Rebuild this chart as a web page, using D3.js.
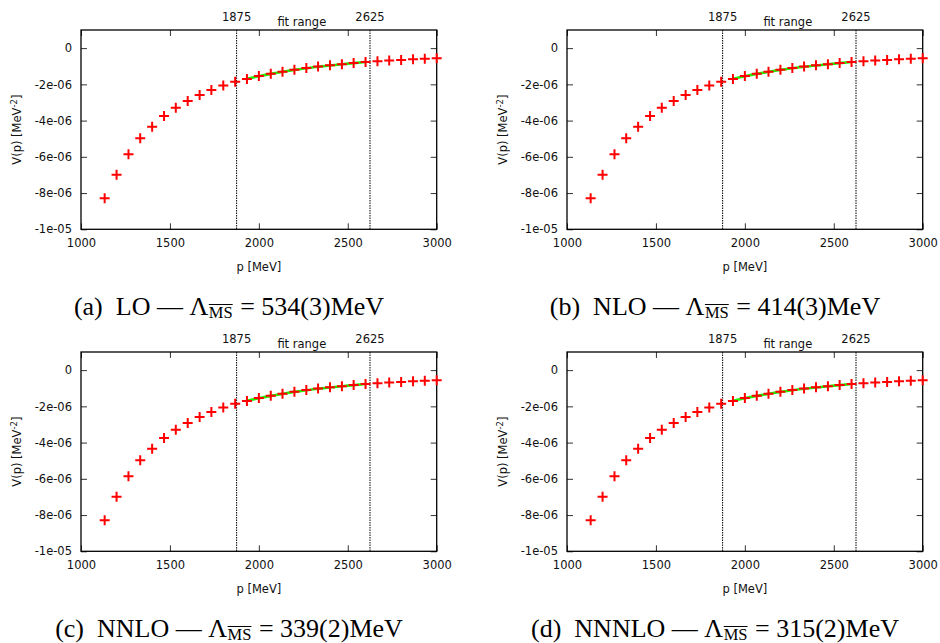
<!DOCTYPE html>
<html>
<head>
<meta charset="utf-8">
<script src="https://cdn.jsdelivr.net/npm/d3@7"></script>
<style>
  body { margin: 0; background: #fff; }
  svg { display: block; }
</style>
</head>
<body>
<svg id="chart" width="940" height="643"></svg>
<script>
// lattice momenta and the measured potential (same for all four panels)
const pValues = [1133, 1200, 1267, 1333, 1400, 1467, 1533, 1600, 1667, 1733,
    1800, 1867, 1933, 2000, 2067, 2133, 2200, 2267, 2333, 2400,
    2467, 2533, 2600, 2667, 2733, 2800, 2867, 2933, 3000];
const vValues = [-8.29e-6, -6.99e-6, -5.86e-6, -4.98e-6, -4.34e-6, -3.75e-6, -3.29e-6, -2.92e-6, -2.59e-6, -2.31e-6,
    -2.07e-6, -1.86e-6, -1.71e-6, -1.54e-6, -1.41e-6, -1.30e-6, -1.19e-6, -1.10e-6, -1.01e-6, -0.95e-6,
    -0.89e-6, -0.82e-6, -0.76e-6, -0.73e-6, -0.69e-6, -0.65e-6, -0.62e-6, -0.59e-6, -0.56e-6];

// fitted curve inside the fit range
const fitP = [1933, 2000, 2067, 2133, 2200, 2267, 2333, 2400, 2467, 2533, 2600];
const fitV = [-1.69e-6, -1.55e-6, -1.42e-6, -1.31e-6, -1.20e-6, -1.11e-6, -1.03e-6, -0.96e-6, -0.89e-6, -0.83e-6, -0.77e-6];

const fitRange = [1875, 2625];
const panelTags = ["(a)", "(b)", "(c)", "(d)"];
const orders = ["LO", "NLO", "NNLO", "NNNLO"];
const lambdas = ["534(3)", "414(3)", "339(2)", "315(2)"];

const xTicks = [1000, 1500, 2000, 2500, 3000];
const yTicks = [0, -2e-6, -4e-6, -6e-6, -8e-6, -1e-5];
const yTickLabels = ["0", "-2e-06", "-4e-06", "-6e-06", "-8e-06", "-1e-05"];

const panelOrigins = [[0, 0], [486, 0], [0, 322], [486, 322]];

const margin = {left: 81, top: 30},
    width = 355.7,
    height = 199.3,
    sansFont = "'DejaVu Sans', Verdana, sans-serif",
    serifFont = "'Liberation Serif', 'DejaVu Serif', serif";

const svg = d3.select("#chart");

const x = d3.scaleLinear().domain([1000, 3000]).range([0, width]);
const y = d3.scaleLinear().domain([-1e-5, 1e-6]).range([height, 0]);

const fitLine = d3.line()
    .x((d, i) => x(fitP[i]))
    .y(d => y(d))
    .curve(d3.curveNatural);

panelOrigins.forEach((origin, k) => {
    const panel = svg.append("g")
        .attr("transform", `translate(${origin[0]},${origin[1]})`);
    const plot = panel.append("g")
        .attr("transform", `translate(${margin.left},${margin.top})`);

    // axes with inward ticks
    plot.append("g")
        .call(d3.axisLeft(y).tickValues(yTicks).tickSize(-6).tickSizeOuter(0).tickPadding(9)
            .tickFormat((d, i) => yTickLabels[i]));
    plot.append("g")
        .attr("transform", `translate(${width},0)`)
        .call(d3.axisRight(y).tickValues(yTicks).tickSize(-6).tickSizeOuter(0).tickFormat(""));
    plot.append("g")
        .attr("transform", `translate(0,${height})`)
        .call(d3.axisBottom(x).tickValues(xTicks).tickSize(-6).tickSizeOuter(0).tickPadding(10)
            .tickFormat(d3.format("d")));
    plot.append("g")
        .call(d3.axisTop(x).tickValues(xTicks).tickSize(-6).tickSizeOuter(0).tickFormat(""));

    plot.selectAll(".domain").remove();
    plot.selectAll(".tick line").attr("stroke", "#333").attr("stroke-width", 1);
    plot.selectAll(".tick text")
        .attr("fill", "#111")
        .style("font-family", sansFont)
        .style("font-size", "11.5px");

    plot.append("rect")
        .attr("width", width)
        .attr("height", height)
        .attr("fill", "none")
        .attr("stroke", "#000")
        .attr("stroke-width", 1.3);

    // fit range markers
    fitRange.forEach(v => {
        plot.append("line")
            .attr("x1", x(v)).attr("x2", x(v))
            .attr("y1", 0).attr("y2", height)
            .attr("stroke", "#000")
            .attr("stroke-width", 1)
            .attr("stroke-dasharray", "1.5,1");
        plot.append("text")
            .attr("x", x(v))
            .attr("y", -9)
            .attr("text-anchor", "middle")
            .attr("fill", "#111")
            .style("font-family", sansFont)
            .style("font-size", "11.5px")
            .text(v);
    });
    plot.append("text")
        .attr("x", x((fitRange[0] + fitRange[1]) / 2) - 1.5)
        .attr("y", -4.5)
        .attr("text-anchor", "middle")
        .attr("fill", "#111")
        .style("font-family", sansFont)
        .style("font-size", "11.5px")
        .text("fit range");

    // fit curve
    plot.append("path")
        .datum(fitV)
        .attr("d", fitLine)
        .attr("fill", "none")
        .attr("stroke", "#22ee00")
        .attr("stroke-width", 2.6);

    // data points as crosses
    plot.append("g")
        .selectAll("path")
        .data(vValues)
        .enter()
        .append("path")
        .attr("d", (d, i) => `M${x(pValues[i]) - 5},${y(d)}h10M${x(pValues[i])},${y(d) - 5}v10`)
        .attr("stroke", "#ff0000")
        .attr("stroke-width", 2)
        .attr("fill", "none");

    // axis titles
    plot.append("text")
        .attr("x", width / 2)
        .attr("y", height + 42)
        .attr("text-anchor", "middle")
        .attr("fill", "#111")
        .style("font-family", sansFont)
        .style("font-size", "11.5px")
        .text("p [MeV]");

    const yTitle = panel.append("text")
        .attr("transform", `translate(21,${margin.top + height / 2}) rotate(-90)`)
        .attr("text-anchor", "middle")
        .attr("fill", "#111")
        .style("font-family", sansFont)
        .style("font-size", "11.5px");
    yTitle.append("tspan").text("V(p) [MeV");
    yTitle.append("tspan").attr("dy", -4).style("font-size", "8.5px").text("-2");
    yTitle.append("tspan").attr("dy", 4).text("]");

    // sub-figure caption
    const cap = panel.append("g");
    const capY = 314.5, capSize = 26;
    const t1 = cap.append("text")
        .attr("x", 0).attr("y", capY)
        .attr("fill", "#000")
        .style("font-family", serifFont)
        .style("font-size", capSize + "px")
        .text(`${panelTags[k]}\u2002${orders[k]} \u2014 \u039B`);
    const w1 = t1.node().getComputedTextLength();
    const t2 = cap.append("text")
        .attr("x", w1 + 0.5).attr("y", capY + 3)
        .attr("fill", "#000")
        .style("font-family", serifFont)
        .style("font-size", "16.5px")
        .text("MS");
    const w2 = t2.node().getComputedTextLength();
    cap.append("line")
        .attr("x1", w1 + 0.5).attr("x2", w1 + 0.5 + w2)
        .attr("y1", capY - 10).attr("y2", capY - 10)
        .attr("stroke", "#000")
        .attr("stroke-width", 1);
    const t3 = cap.append("text")
        .attr("x", w1 + w2 + 8).attr("y", capY)
        .attr("fill", "#000")
        .style("font-family", serifFont)
        .style("font-size", capSize + "px")
        .text(`= ${lambdas[k]}MeV`);
    const total = w1 + w2 + 8 + t3.node().getComputedTextLength();
    cap.attr("transform", `translate(${229 - total / 2},0)`);
});
</script>
</body>
</html>
